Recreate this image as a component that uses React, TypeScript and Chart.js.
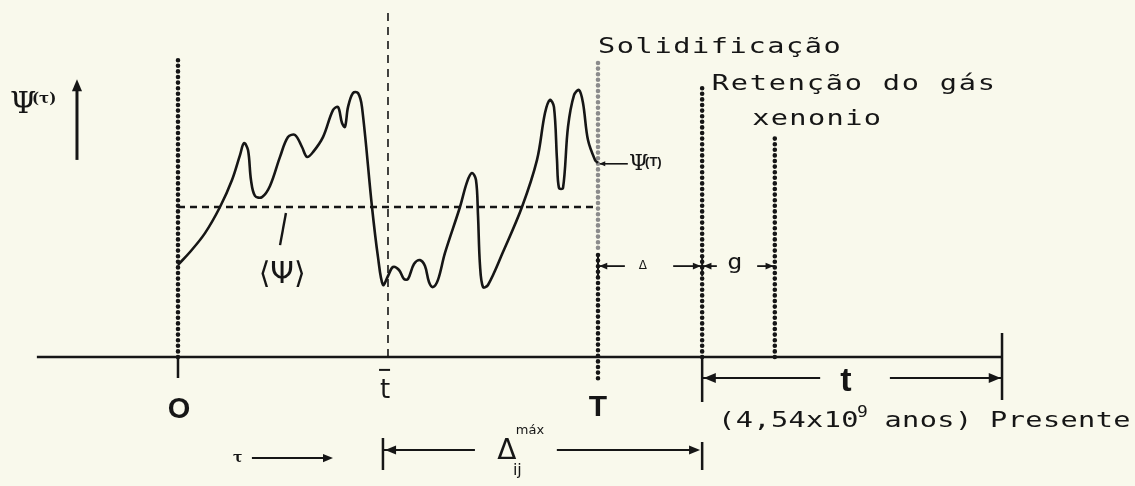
import React, { useEffect, useRef } from "react";
import { Chart, registerables } from "chart.js";

Chart.register(...registerables);

// Time axis: O = 0, T (solidification) = 100.  Ψ axis: base line = 0, <Ψ> = 50.
const CURVE_T = [
  0, 2.86, 6.43, 10, 12.86, 14.76, 15.71, 16.67, 17.38, 18.33, 20, 21.9, 24.29, 26.19, 27.86,
  29.52, 30.71, 32.14, 34.52, 36.9, 38.1, 39.05, 39.76, 40.48, 41.67, 42.86, 43.81, 46.19,
  47.62, 48.81, 50, 51.19, 52.62, 53.81, 54.76, 56.19, 57.62, 58.81, 59.76, 60.71, 61.9,
  63.57, 67.14, 68.81, 70, 70.95, 71.43, 71.9, 72.62, 73.81, 77.38, 81.9, 85.48, 87.38,
  88.57, 89.52, 90.24, 90.71, 91.67, 92.86, 94.29, 95.48, 96.43, 97.62, 99.29, 100,
];
const CURVE_PSI = [
  30.7, 35, 41.3, 50, 59, 67.3, 71.3, 69, 59, 53.7, 53.3, 57, 66.7, 73.3, 74,
  70, 66.7, 68.3, 73.3, 82.3, 83.3, 78, 76.7, 83.3, 88, 88, 83.3, 50,
  33.3, 24, 27, 30, 29, 26, 26, 31, 32.3, 30.3, 25, 23.3, 25.7,
  34.7, 50, 58.3, 61.3, 59, 47.3, 30.7, 23.3, 24, 35, 50, 65.7, 81.3,
  85.7, 83.3, 65.7, 56.3, 56.3, 76.7, 87.3, 89, 84.7, 72.3, 65.7, 64.7,
];
const PSI_MEAN = 50;
const T_ORIGIN = 0;
const T_BAR = 50;
const T_SOLID = 100;
const T_RETENTION = 124.8;
const T_XENON = 142.1;
const T_PRESENT = 196.2;
const PSI_AT_T = 64.7;

const X_MIN = -42.38;
const X_MAX = 227.86;
const Y_MIN = -43;
const Y_MAX = 119;

const INK = "#161616";
const GREY = "#8c8c8c";
const BG = "#f9f9ec";
const MONO = '"DejaVu Sans Mono", "Liberation Mono", monospace';
const SANS = '"Liberation Sans", Arial, sans-serif';
const DJ = '"DejaVu Sans", sans-serif';
const SERIF = '"DejaVu Serif", serif';

type P = [number, number];

const seg = (pts: P[], extra: any = {}) => ({
  data: pts.map(([x, y]) => ({ x, y })),
  showLine: true,
  pointRadius: 0,
  borderColor: INK,
  backgroundColor: INK,
  borderWidth: 2.5,
  fill: false,
  tension: 0,
  ...extra,
});
const dotted = (pts: P[], color = INK) =>
  seg(pts, { borderDash: [0, 5.6], borderCapStyle: "round", borderWidth: 4.6, borderColor: color });

function buildDatasets() {
  const ds: any[] = [];
  // main curve Ψ(τ)
  ds.push({
    data: CURVE_T.map((t, i) => ({ x: t, y: CURVE_PSI[i] })),
    showLine: true,
    pointRadius: 0,
    borderColor: INK,
    borderWidth: 2.6,
    tension: 0.35,
    fill: false,
  });
  // mean <Ψ>
  ds.push(seg([[T_ORIGIN, PSI_MEAN], [T_SOLID, PSI_MEAN]], { borderDash: [7, 5], borderWidth: 2.6 }));
  // t-bar dashed vertical
  ds.push(seg([[T_BAR, 0], [T_BAR, 116.5]], { borderDash: [8, 6], borderWidth: 1.6 }));
  // dotted markers
  ds.push(dotted([[T_ORIGIN, 0], [T_ORIGIN, 100]]));
  ds.push(dotted([[T_SOLID, 98], [T_SOLID, 36]], GREY));
  ds.push(dotted([[T_SOLID, 34], [T_SOLID, -8.3]]));
  ds.push(dotted([[T_RETENTION, 0], [T_RETENTION, 89.7]]));
  ds.push(dotted([[T_XENON, 0], [T_XENON, 73.3]]));
  // time axis and ticks
  ds.push(seg([[-33.6, 0], [T_PRESENT, 0]], { borderWidth: 2.6 }));
  ds.push(seg([[T_ORIGIN, 0], [T_ORIGIN, -7]]));
  ds.push(seg([[T_RETENTION, 0], [T_RETENTION, -15]]));
  ds.push(seg([[T_PRESENT, 8], [T_PRESENT, -14.3]]));
  // Ψ axis arrow shaft
  ds.push(seg([[-24.05, 65.7], [-24.05, 90]], { borderWidth: 3 }));
  // τ arrow
  ds.push(seg([[17.6, -33.7], [35, -33.7]], { borderWidth: 2 }));
  // Δ_ij max arrow
  ds.push(seg([[48.8, -27], [48.8, -37.7]]));
  ds.push(seg([[48.8, -31], [70.7, -31]], { borderWidth: 2 }));
  ds.push(seg([[90.2, -31], [123, -31]], { borderWidth: 2 }));
  ds.push(seg([[T_RETENTION, -28.3], [T_RETENTION, -37.7]]));
  // Δ and g arrows
  ds.push(seg([[T_SOLID, 34], [T_SOLID, 27]], { borderWidth: 2 }));
  ds.push(seg([[T_SOLID, 30.3], [106.4, 30.3]], { borderWidth: 1.8 }));
  ds.push(seg([[117.9, 30.3], [T_RETENTION, 30.3]], { borderWidth: 1.8 }));
  ds.push(seg([[T_RETENTION, 34], [T_RETENTION, 27]], { borderWidth: 2 }));
  ds.push(seg([[T_RETENTION, 30.3], [128.3, 30.3]], { borderWidth: 1.8 }));
  ds.push(seg([[137.9, 30.3], [T_XENON, 30.3]], { borderWidth: 1.8 }));
  // t arrow
  ds.push(seg([[T_RETENTION, -7], [152.9, -7]], { borderWidth: 2.2 }));
  ds.push(seg([[169.5, -7], [T_PRESENT, -7]], { borderWidth: 2.2 }));
  // Ψ(T) pointer
  ds.push(seg([[T_SOLID, PSI_AT_T - 0.3], [107.1, PSI_AT_T - 0.3]], { borderWidth: 1.6 }));
  // <Ψ> leader
  ds.push(seg([[25.7, 48], [24.3, 37.3]], { borderWidth: 2.4 }));
  return ds;
}

// arrow heads: [x, y, direction, length]
const HEADS: [number, number, string, number][] = [
  [-24.05, 92.6, "u", 12],
  [36.9, -33.7, "r", 10],
  [49.3, -31, "l", 11],
  [124.3, -31, "r", 11],
  [T_SOLID + 0.3, 30.3, "l", 8],
  [T_RETENTION - 0.3, 30.3, "r", 8],
  [T_RETENTION + 0.3, 30.3, "l", 8],
  [T_XENON - 0.3, 30.3, "r", 8],
  [T_RETENTION + 0.4, -7, "l", 12],
  [T_PRESENT - 0.3, -7, "r", 12],
  [T_SOLID + 0.3, PSI_AT_T - 0.3, "l", 6],
];

const overlay = {
  id: "overlay",
  beforeDraw(chart: any) {
    const { ctx, width, height } = chart;
    ctx.save();
    ctx.fillStyle = BG;
    ctx.fillRect(0, 0, width, height);
    ctx.restore();
  },
  afterDatasetsDraw(chart: any) {
    const ctx: CanvasRenderingContext2D = chart.ctx;
    const X = (v: number) => chart.scales.x.getPixelForValue(v);
    const Y = (v: number) => chart.scales.y.getPixelForValue(v);
    ctx.save();
    ctx.fillStyle = INK;
    ctx.strokeStyle = INK;

    // arrow heads
    for (const [hx, hy, dir, len] of HEADS) {
      const x = X(hx);
      const y = Y(hy);
      const w = len * 0.42;
      ctx.beginPath();
      if (dir === "r") {
        ctx.moveTo(x, y);
        ctx.lineTo(x - len, y - w);
        ctx.lineTo(x - len, y + w);
      } else if (dir === "l") {
        ctx.moveTo(x, y);
        ctx.lineTo(x + len, y - w);
        ctx.lineTo(x + len, y + w);
      } else {
        ctx.moveTo(x, y);
        ctx.lineTo(x - w, y + len);
        ctx.lineTo(x + w, y + len);
      }
      ctx.closePath();
      ctx.fill();
    }

    const text = (s: string, x: number, y: number, font: string, align: CanvasTextAlign = "center", base: CanvasTextBaseline = "middle") => {
      ctx.font = font;
      ctx.textAlign = align;
      ctx.textBaseline = base;
      ctx.fillText(s, x, y);
    };
    // typewriter text: wide glyphs at a fixed pitch
    const mono = (s: string, x: number, y: number, adv: number, font: string, stretch = 1.3) => {
      ctx.font = font;
      ctx.textAlign = "left";
      ctx.textBaseline = "alphabetic";
      let cx = x;
      for (const ch of Array.from(s)) {
        ctx.save();
        ctx.translate(cx, y);
        ctx.scale(stretch, 1);
        ctx.fillText(ch, 0, 0);
        ctx.restore();
        cx += adv;
      }
      return cx;
    };

    // Ψ(τ) axis label
    text("Ψ", X(-40), Y(84), `30px ${SERIF}`, "left");
    text("(τ)", X(-40) + 22, Y(86), `bold 15px ${SERIF}`, "left");

    // <Ψ>
    text("⟨Ψ⟩", X(24.8), Y(27.3), `30px ${DJ}`);

    // O, t-bar, T
    text("O", X(T_ORIGIN) + 1, Y(-17.7), `bold 29px ${SANS}`);
    text("t", X(49.3), Y(-11.3), `26px ${DJ}`);
    ctx.lineWidth = 2;
    ctx.beginPath();
    ctx.moveTo(X(49.3) - 6, Y(-4.3));
    ctx.lineTo(X(49.3) + 5, Y(-4.3));
    ctx.stroke();
    text("T", X(T_SOLID), Y(-17), `bold 30px ${SANS}`);

    // τ →
    text("τ", X(14.2), Y(-33.7), `bold 14px ${SERIF}`);

    // Δ_ij^máx
    text("Δ", X(78.3), Y(-31.5), `28px ${DJ}`);
    text("máx", X(83.8), Y(-24.5), `13px ${DJ}`);
    text("ij", X(80.8), Y(-37.8), `16px ${DJ}`);

    // small Δ and g
    text("Δ", X(110.7), Y(30.3), `12px ${DJ}`);
    ctx.save();
    ctx.translate(X(132.6), Y(31));
    ctx.scale(1.2, 1);
    text("g", 0, 0, `21px ${MONO}`);
    ctx.restore();

    // big t
    text("t", X(159), Y(-8.3), `bold 34px ${SANS}`);

    // Ψ(T)
    text("Ψ", X(107.4), Y(64.2), `22px ${SERIF}`, "left");
    text("(T)", X(107.4) + 16, Y(64.8), `bold 13px ${SANS}`, "left");

    // typewritten labels
    const tw = `22px ${MONO}`;
    mono("Solidificação", X(T_SOLID), Y(101.3), 18.8, tw);
    mono("Retenção do gás", X(127.1), Y(89), 19, tw);
    mono("xenonio", X(136.7), Y(77.3), 18.6, tw);

    const x0 = mono("(4,54x10", X(128.6), Y(-23.3), 17.6, tw);
    mono("9", x0 - 2, Y(-23.3) - 10, 10, `15px ${MONO}`, 1.2);
    mono(" anos) Presente", x0 + 8, Y(-23.3), 17.6, tw);

    ctx.restore();
  },
};

export default function App() {
  const ref = useRef<HTMLCanvasElement>(null);
  useEffect(() => {
    document.body.style.margin = "0";
    document.body.style.background = BG;
    const chart = new Chart(ref.current as HTMLCanvasElement, {
      type: "scatter",
      data: { datasets: buildDatasets() },
      options: {
        responsive: false,
        animation: false,
        layout: { padding: 0 },
        events: [],
        scales: {
          x: { type: "linear", min: X_MIN, max: X_MAX, display: false },
          y: { type: "linear", min: Y_MIN, max: Y_MAX, display: false },
        },
        plugins: { legend: { display: false }, tooltip: { enabled: false }, title: { display: false } },
      },
      plugins: [overlay],
    } as any);
    return () => chart.destroy();
  }, []);
  return (
    <div style={{ width: 1135, height: 486 }}>
      <canvas ref={ref} width={1135} height={486} style={{ display: "block" }} />
    </div>
  );
}
